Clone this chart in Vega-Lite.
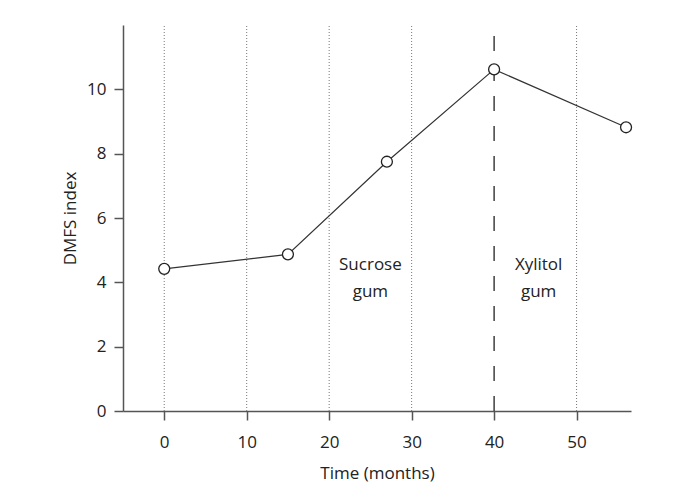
{
  "$schema": "https://vega.github.io/schema/vega-lite/v6.json",
  "width": 508,
  "height": 386,
  "autosize": {"type": "none"},
  "padding": {"left": 123, "top": 25, "right": 49, "bottom": 90},
  "background": "white",
  "config": {
    "view": {"stroke": null},
    "font": "Open Sans",
    "axis": {
      "domainColor": "#555",
      "domainWidth": 1.5,
      "tickColor": "#555",
      "tickWidth": 1.5,
      "tickSize": 9,
      "labelFont": "Open Sans",
      "labelFontSize": 17,
      "labelColor": "#222",
      "titleFont": "Open Sans",
      "titleFontSize": 17,
      "titleFontWeight": "normal",
      "titleColor": "#222",
      "grid": false
    }
  },
  "datasets": {
    "dmfs": [
      {"time": 0, "dmfs": 4.42},
      {"time": 15, "dmfs": 4.87},
      {"time": 27, "dmfs": 7.75},
      {"time": 40, "dmfs": 10.62},
      {"time": 56, "dmfs": 8.82}
    ],
    "dotted": [{"time": 0}, {"time": 10}, {"time": 20}, {"time": 30}, {"time": 50}],
    "dashed": [{"time": 40}],
    "labels": [
      {"time": 25, "dmfs": 4.55, "label": "Sucrose\ngum"},
      {"time": 45.4, "dmfs": 4.55, "label": "Xylitol\ngum"}
    ]
  },
  "layer": [
    {
      "data": {"name": "dotted"},
      "mark": {"type": "rule", "color": "#777", "strokeDash": [1, 2], "strokeWidth": 1},
      "encoding": {
        "x": {"field": "time", "type": "quantitative", "scale": {"domain": [-5, 56.6], "nice": false, "zero": false},
          "axis": {"values": [0, 10, 20, 30, 40, 50], "title": "Time (months)", "labelPadding": 14, "titlePadding": 15}},
        "y": {"datum": 0, "type": "quantitative", "scale": {"domain": [0, 12], "nice": false},
          "axis": {"values": [0, 2, 4, 6, 8, 10], "title": "DMFS index", "labelPadding": 8, "titlePadding": 7}},
        "y2": {"datum": 12}
      }
    },
    {
      "data": {"name": "dashed"},
      "mark": {"type": "rule", "color": "#222", "strokeDash": [15, 15], "strokeWidth": 1.3},
      "encoding": {
        "x": {"field": "time", "type": "quantitative"},
        "y": {"datum": 0, "type": "quantitative"},
        "y2": {"datum": 12}
      }
    },
    {
      "data": {"name": "dmfs"},
      "mark": {"type": "line", "color": "#333", "strokeWidth": 1.2},
      "encoding": {
        "x": {"field": "time", "type": "quantitative"},
        "y": {"field": "dmfs", "type": "quantitative"}
      }
    },
    {
      "data": {"name": "dmfs"},
      "mark": {"type": "point", "shape": "circle", "filled": true, "fill": "white", "stroke": "#222", "strokeWidth": 1.3, "size": 120, "opacity": 1},
      "encoding": {
        "x": {"field": "time", "type": "quantitative"},
        "y": {"field": "dmfs", "type": "quantitative"}
      }
    },
    {
      "data": {"name": "labels"},
      "mark": {"type": "text", "fontSize": 17, "font": "Open Sans", "color": "#222", "lineBreak": "\n", "lineHeight": 27, "align": "center", "baseline": "middle"},
      "encoding": {
        "x": {"field": "time", "type": "quantitative"},
        "y": {"field": "dmfs", "type": "quantitative"},
        "text": {"field": "label"}
      }
    }
  ]
}
